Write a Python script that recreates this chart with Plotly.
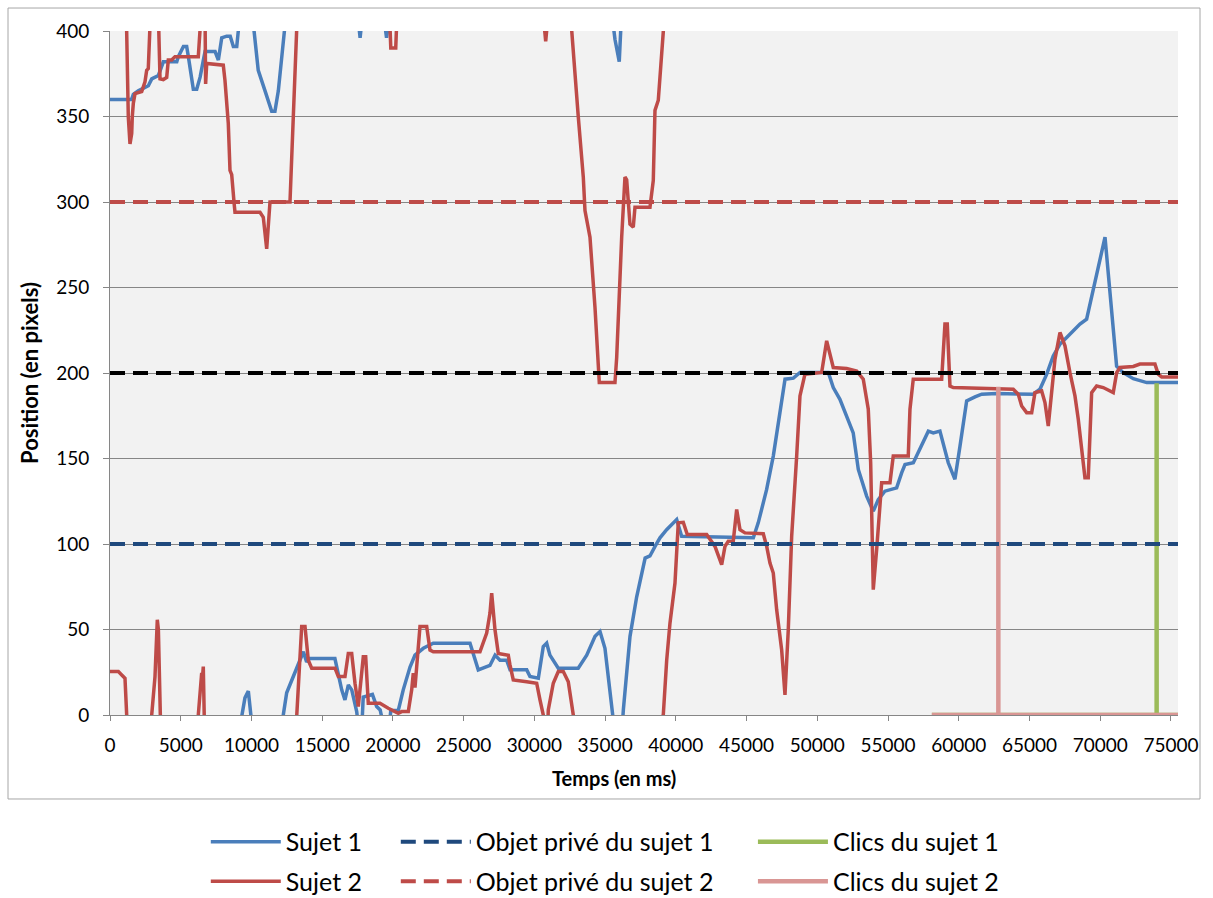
import plotly.graph_objects as go

# ---- time (ms) / position (px) samples; None breaks the trace where it leaves the 0-400 band
sujet1_t = [0, 1530, 1650, 2000, 2710, 2950, 3420, 3770, 4720, 4830, 5190, 5420, 5540, 5890, 6130,
            6370, 6600, 6720, 7430, 7660, 7900, 8250, 8500, 8720, 8960, 9070, 9130, None,
            9160, 9540, 9780, 10060, None,
            10030, 10480, 10960, 11430, 11660, 11900, 12330, 12380, None,
            12200, 12250, 12490, 13670, 13900, 14100, 15900, 16380, 16610, 16850, 17090, 17440, 17550, None,
            17480, 17680, 17880, None,
            17800, 17900, 18550, 18850, 19100, 19330, None,
            19300, 19550, 19790, None,
            19750, 19850, 20380, 20730, 21210, 21560, 22150, 22850, 25450, 25800, 26035, 26860, 27220,
            27570, 28040, 28280, 29460, 29690, 30280, 30630, 30870, 31100, 31690, 33100, 33700, 34290,
            34640, 34990, 35580, 35650, None,
            35450, 35700, 36000, 36170, None,
            36200, 36290, 36760, 37230, 37830, 38170, 38530, 38880, 39350, 40060, 40410, 45480, 45830,
            46420, 46890, 47360, 47720, 48310, 48780, 50780, 51130, 51600, 52080, 52540, 52900, 53490,
            53960, 54310, 54780, 55610, 55970, 56200, 56790, 57380, 57850, 58200, 58670, 59260, 59730,
            60090, 60560, 61150, 61620, 62680, 65270, 65740, 66220, 66680, 67160, 67630, 68100, 68570,
            69040, 69510, 69980, 70340, 71160, 71630, 72340, 73290, 75500]
sujet1_pos = [360, 360, 363, 365, 368, 372, 374, 382, 382, 385, 391, 391, 385, 366, 366,
              373, 383, 388, 388, 383, 396, 397, 397, 391, 391, 400, 412, None,
              -8, 10, 14, -8, None,
              412, 377, 365, 353, 353, 365, 400, 412, None,
              -8, 0, 13, 37, 31, 33, 33, 14.7, 8.8, 17.6, 14.7, 2, -6, None,
              412, 396, 412, None,
              -8, 10.5, 12, 5, 3, -6, None,
              412, 396, 412, None,
              -6, 2.7, 2.7, 14.7, 28, 35, 39, 42, 42, 32, 26.4, 29, 35,
              32, 32, 26.4, 26.4, 22.5, 21.5, 40, 42, 35, 27.4, 27.4, 35, 46,
              48.8, 39, 0, -8, None,
              412, 395, 382, 412, None,
              -8, 3, 46, 69, 91.8, 93, 98.6, 103.6, 108.4, 114.3, 104.5, 103.6, 112.5,
              131.9, 151.4, 176.8, 196.4, 197, 200.3, 200.3, 191.5, 184.6, 174.9, 165, 143.6, 128,
              119.2, 126, 130.9, 132.8, 141.7, 146.5, 147.5, 157.3, 166, 165, 166, 147.5, 137.8,
              157.3, 183.6, 186, 187.6, 188, 187.6, 190.5, 199.3, 210, 216.9, 220.8, 224.7, 228.6,
              231.5, 249, 264.8, 279.4, 204, 200.2, 196.7, 194.4, 194.4]

sujet2_t = [0, 590, 830, 1060, 1180, 1220, None,
            1150, 1181, 1294, 1414, 1534, 1576, 1647, 1767, 2241, 2474, 2594, 2707, 2828, 2870, None,
            2900, 2948, 3181, 3344, 3420, 3535, 3580, None,
            3414, 3535, 3768, 4008, 4121, 4362, 4595, 6242, 6360, 6420, None,
            6200, 6242, 6482, 6540, 6595, 6640, 6680, None,
            6716, 6760, 6836, 8009, 8129, 8249, 8363, 8483, 8603, 8787, 8836, 10604, 10837, 11077,
            11310, 12724, 13198, 13250, None,
            13150, 13198, 13551, 13785, 14018, 14258, 15905, 16139, 16612, 16846, 17086, 17319, 17553,
            17906, 18076, 18259, 19086, 19673, 20147, 20380, 20620, 21087, 21327, 21440, 21560, 21681,
            21914, 22388, 22621, 22854, 26155, 26629, 26862, 26982, 27216, 27449, 28156, 28276, 28509,
            29457, 30163, 30397, 30630, 30680, None,
            19750, 19850, 20200, 20300, None,
            30600, 30800, 31000, None,
            30940, 30983, 31337, 31691, 32044, 32398, 32751, 32800, None,
            32600, 32638, 33105, 33458, 33578, 33741, 33931, 34285, 34589, 35698, 35819, 36172, 36405,
            36525, 36759, 36992, 37112, 38173, 38407, 38526, 38760, 39113, 39150, None,
            39000, 39113, 39353, 39586, 39940, 40173, 40527, 40809, 42181, 42414, 42767, 43241, 43474,
            43707, 44060, 44301, 44535, 44888, 46182, 46423, 46655, 46889, 47129, 47482, 47716, 47949,
            48189, 48543, 48776, 49129, 50310, 50663, 50897, 51130, 52077, 52784, 53251, 53604, 53774,
            53958, 54197, 54431, 54551, 55138, 55371, 56431, 56552, 56785, 58793, 59026, 59189, 59380,
            59613, 63855, 64208, 64449, 64802, 65156, 65388, 65862, 66095, 66328, 66569, 66802, 67156,
            67509, 67862, 68216, 68449, 68689, 68922, 69156, 69396, 69750, 70216, 70923, 71164, 71397,
            72337, 72811, 73871, 74105, 74345, 75500]
sujet2_pos = [25.4, 25.4, 23.4, 21.5, 0, -8, None,
              412, 397.6, 349.8, 334, 340, 350, 357.6, 363.4, 364.6, 370.3, 377, 378, 400.5, 412, None,
              -8, 0, 22.5, 55.7, 50, 0, -8, None,
              412, 372, 371.6, 372.8, 383, 383, 385, 385, 400, 412, None,
              -8, 0, 24.6, 22, 28.3, 0, -8, None,
              412, 369, 381, 380, 371, 353.6, 345.8, 318.5, 316, 298, 294, 294, 291, 272.6,
              300, 300, 398.6, 412, None,
              -8, 0, 51.8, 51.8, 32, 27.4, 27.4, 22.5, 22.5, 36, 36, 18.6, 4.9,
              34, 34, 6.8, 6.8, 3.9, 2, 1, 2, 2, 14.7, 24.4, 16, 28.3,
              51.8, 51.8, 38, 37, 37, 47.9, 59.6, 71.3, 49.8, 36, 35, 29.3, 20.5,
              19.5, 18.6, 8.8, 0, -8, None,
              412, 390, 390, 412, None,
              412, 394, 412, None,
              -8, 3, 18.6, 25.4, 25.4, 19.5, 0, -8, None,
              412, 400.5, 349.8, 314.6, 295, 288, 279.4, 238.4, 194.4, 194.4, 209, 279.4, 314.6,
              313, 287, 285.3, 297, 297, 312.6, 353.6, 359.5, 399.5, 412, None,
              -8, 0, 32, 53.7, 77.2, 112.4, 112.7, 105.5, 105.5, 102.6, 98.6, 87.9, 98.6,
              101.6, 101.6, 120.2, 108.4, 106.5, 106, 98.6, 88.9, 83, 61.5, 38, 11.7, 49.8,
              104.5, 151.4, 186.6, 199.3, 200.3, 218.8, 211, 203.2, 202.6, 201.2, 196.4, 178.8, 147.5,
              73.3, 96.7, 128, 135.8, 135.8, 151.4, 151.4, 178.8, 196.4, 196.4, 228.6, 228.6, 192.4,
              191.5, 190.5, 187.6, 180.7, 176.8, 176.8, 188.5, 189.5, 182.7, 169, 191, 208, 223.7,
              215.9, 200.2, 186.6, 172.9, 155.3, 138.7, 138.7, 188.5, 192.4, 191.5, 188.5, 200.2, 203.2,
              203.8, 205.2, 205.2, 199.3, 197.7, 197.7]

# private objects and the shared target (constant positions)
objet_t = [0, 75500]
objet1_pos = [100, 100]
objet2_pos = [300, 300]
objet_commun_pos = [200, 200]

# clicks: 0 when idle, click position at the click instant
clics1_t = [58100, 73990, 73990, 73990, 75500]
clics1_pos = [0, 0, 194, 0, 0]
clics2_t = [58100, 62800, 62800, 62800, 75500]
clics2_pos = [0, 0, 192, 0, 0]

x_ticks = list(range(0, 75001, 5000))
x_ticktext = [str(v) for v in x_ticks]
y_ticks = list(range(0, 401, 50))

BLUE = "#4A7EBB"
RED = "#BE4B48"
NAVY = "#1F497D"
GREEN = "#9BBB59"
PINK = "#D99694"
DASH = "15px,8px"

fig = go.Figure()
fig.add_trace(go.Scatter(x=sujet1_t, y=sujet1_pos, mode="lines", name="Sujet 1",
                         line=dict(color=BLUE, width=3.5), legend="legend", legendgroup="s1",
                         connectgaps=False))
fig.add_trace(go.Scatter(x=sujet2_t, y=sujet2_pos, mode="lines", name="Sujet 2",
                         line=dict(color=RED, width=3.5), legend="legend", legendgroup="s2",
                         connectgaps=False))
fig.add_trace(go.Scatter(x=clics1_t, y=clics1_pos, mode="lines", name="Clics du sujet 1",
                         line=dict(color=GREEN, width=4.5), legend="legend3", legendgroup="c1"))
fig.add_trace(go.Scatter(x=clics2_t, y=clics2_pos, mode="lines", name="Clics du sujet 2",
                         line=dict(color=PINK, width=4.5), legend="legend3", legendgroup="c2"))
fig.add_trace(go.Scatter(x=objet_t, y=objet1_pos, mode="lines", name="Objet privé du sujet 1",
                         line=dict(color=NAVY, width=4, dash=DASH), legend="legend2", legendgroup="o1"))
fig.add_trace(go.Scatter(x=objet_t, y=objet2_pos, mode="lines", name="Objet privé du sujet 2",
                         line=dict(color=RED, width=4, dash=DASH), legend="legend2", legendgroup="o2"))
fig.add_trace(go.Scatter(x=objet_t, y=objet_commun_pos, mode="lines", showlegend=False,
                         line=dict(color="#000000", width=4, dash=DASH), hoverinfo="skip"))

legend_common = dict(orientation="v", yanchor="top", xanchor="left", y=-0.152,
                     font=dict(family="Lato", size=25, color="#000000"),
                     itemwidth=70, tracegroupgap=4, bgcolor="rgba(0,0,0,0)")
fig.update_layout(
    width=1213, height=898,
    margin=dict(l=110, r=35, t=31, b=183, autoexpand=False),
    paper_bgcolor="#FFFFFF",
    plot_bgcolor="#F2F2F2",
    font=dict(family="Lato", size=19, color="#000000"),
    legend=dict(legend_common, x=0.0897),
    legend2=dict(legend_common, x=0.2676),
    legend3=dict(legend_common, x=0.602),
    xaxis=dict(range=[0, 75500], tickvals=x_ticks, ticktext=x_ticktext, ticks="outside", ticklen=5,
               tickcolor="#868686", showline=True, linecolor="#868686", linewidth=1,
               showgrid=False, zeroline=False, ticklabelstandoff=8),
    yaxis=dict(range=[0, 400], tickvals=y_ticks, ticks="outside", ticklen=6,
               tickcolor="#868686", showline=True, linecolor="#868686", linewidth=1,
               showgrid=True, gridcolor="#868686", gridwidth=1, zeroline=False,
               ticklabelstandoff=10,
               title=dict(text="<b>Position (en pixels)</b>", font=dict(size=22), standoff=11)),
    annotations=[dict(text="<b>Temps (en ms)</b>", xref="paper", yref="paper",
                      x=0.472, y=-0.0925, xanchor="center", yanchor="middle",
                      showarrow=False, font=dict(size=20))],
    shapes=[dict(type="rect", xref="paper", yref="paper",
                 x0=-0.0955, x1=1.0206, y0=-0.1228, y1=1.0336,
                 line=dict(color="#A6A6A6", width=1), fillcolor="rgba(0,0,0,0)", layer="below")],
    showlegend=True,
)

fig.write_html("out.html")
